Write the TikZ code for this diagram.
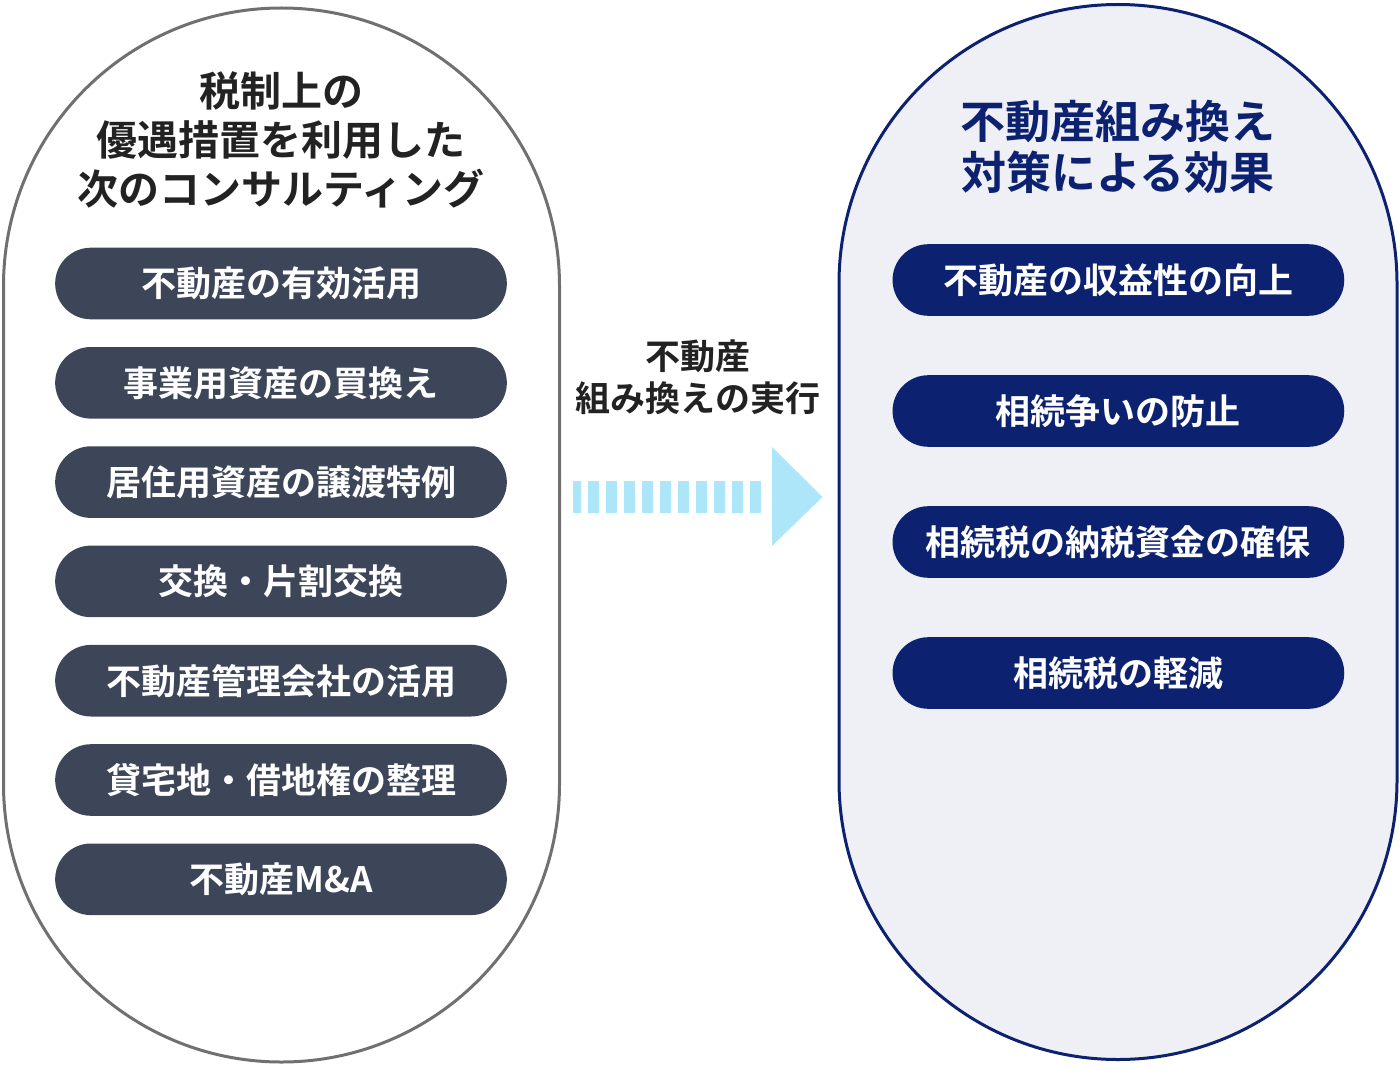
\documentclass[tikz,border=0pt]{standalone}
\usepackage{fontspec}
\setmainfont{Noto Sans CJK JP}[BoldFont={Noto Sans CJK JP Bold}]
\definecolor{capgray}{HTML}{707070}
\definecolor{pillgray}{HTML}{3D4559}
\definecolor{navy}{HTML}{0C2270}
\definecolor{paleblue}{HTML}{EEF0F6}
\definecolor{skyblue}{HTML}{ADE6F8}
\definecolor{inkdark}{HTML}{222222}
\tikzset{
	leftpill/.style={fill=pillgray,text=white,rounded corners=35.8pt,minimum width=451.7pt,minimum height=71.6pt,inner sep=0pt,font=\bfseries\fontsize{35}{40}\selectfont},
	rightpill/.style={leftpill,fill=navy},
	headline/.style={align=center,inner sep=0pt,font=\bfseries\fontsize{41}{49}\selectfont}
}
\begin{document}
\begin{tikzpicture}[x=1pt,y=-1pt]
	\useasboundingbox (0,0) rectangle (1400,1070); %pixel grid of the reference
	% the two capsules
	\draw[capgray,line width=3pt,rounded corners=278pt] (3.5,8) rectangle (559.5,1062);
	\draw[navy,fill=paleblue,line width=3pt,rounded corners=279pt] (839,4.5) rectangle (1397,1059.5);
	% headings
	\node[headline,text=inkdark] (lefthead) at (281,140) {税制上の\\優遇措置を利用した\\次のコンサルティング};
	\node[headline,text=navy,font=\bfseries\fontsize{45}{51}\selectfont] (righthead) at (1118,147) {不動産組み換え\\対策による効果};
	% left items
	\foreach \txt [count=\i] in {不動産の有効活用,事業用資産の買換え,居住用資産の譲渡特例,交換・片割交換,不動産管理会社の活用,貸宅地・借地権の整理,不動産M\&A}
		\node[leftpill] (left\i) at (281,283.5+99.3*\i-99.3) {\txt};
	% right items
	\foreach \txt [count=\i] in {不動産の収益性の向上,相続争いの防止,相続税の納税資金の確保,相続税の軽減}
		\node[rightpill] (right\i) at (1118.4,280+131*\i-131) {\txt};
	% middle arrow
	\node[align=center,inner sep=0pt,text=inkdark,font=\bfseries\fontsize{35}{42}\selectfont] (midlabel) at (698,377) {不動産\\組み換えの実行};
	\draw[skyblue,line width=32pt,dash pattern=on 10.7pt off 7.3pt,dash phase=3.2pt] (573,497) -- (761,497);
	\fill[skyblue] (772,447) -- (822.5,497) -- (772,546) -- cycle;
\end{tikzpicture}
\end{document}
